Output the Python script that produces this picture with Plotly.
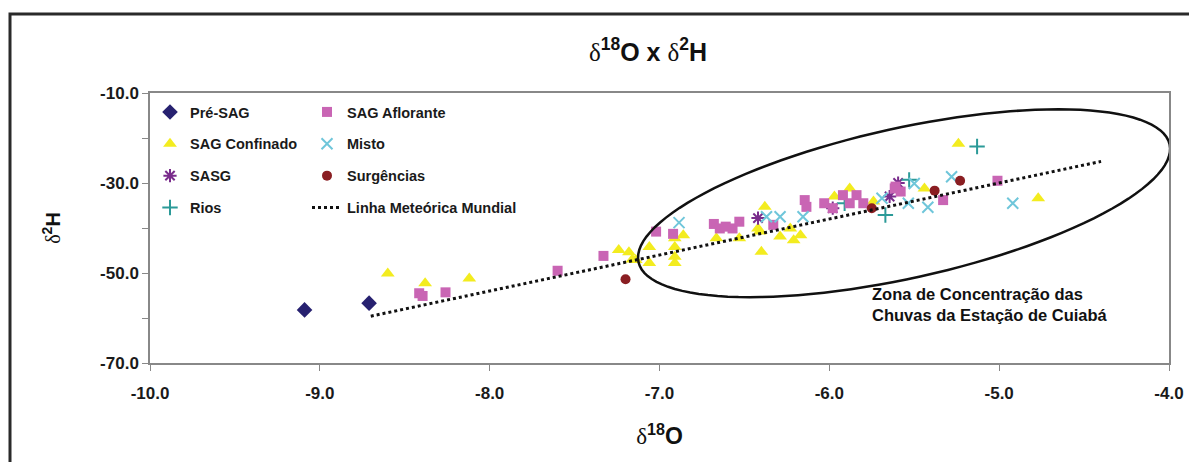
import math
import plotly.graph_objects as go

# ---------------- data ----------------
pre_sag_x = [-9.09, -8.71]
pre_sag_y = [-58.2, -56.7]

sag_aflorante_x = [-8.415, -8.395, -8.26, -7.60, -7.33, -7.02, -6.92, -6.68, -6.645, -6.61, -6.57, -6.53,
                   -6.33, -6.145, -6.135, -6.03, -5.98, -5.92, -5.88, -5.84, -5.80, -5.61, -5.615, -5.58,
                   -5.33, -5.01]
sag_aflorante_y = [-54.5, -55.1, -54.3, -49.5, -46.2, -40.8, -41.3, -39.1, -40.1, -39.7, -40.1, -38.6,
                   -39.3, -33.8, -35.3, -34.5, -35.6, -32.7, -34.5, -32.7, -34.5, -30.8, -31.2, -31.9,
                   -33.8, -29.5]

sag_confinado_x = [-8.60, -8.38, -8.12, -7.24, -7.18, -7.16, -7.14, -7.06, -7.06, -6.91, -6.86, -6.91,
                   -6.91, -6.91, -6.665, -6.53, -6.38, -6.42, -6.41, -6.40, -6.29, -6.23, -6.21, -6.17,
                   -5.97, -5.88, -5.74, -5.44, -5.24, -4.77]
sag_confinado_y = [-50.1, -52.3, -51.2, -44.9, -45.4, -47.0, -47.1, -44.2, -47.8, -42.3, -41.6, -44.2,
                   -46.4, -47.8, -42.3, -42.3, -35.3, -40.1, -40.8, -45.3, -41.9, -40.1, -42.7, -41.6,
                   -33.0, -31.2, -34.1, -31.2, -21.3, -33.4]

misto_x = [-6.885, -6.37, -6.29, -6.155, -5.69, -5.50, -5.535, -5.28, -5.42, -4.92]
misto_y = [-38.8, -37.5, -37.5, -37.5, -33.4, -30.1, -34.5, -28.6, -35.4, -34.5]

sasg_x = [-6.42, -5.98, -5.645, -5.595]
sasg_y = [-37.8, -35.6, -33.0, -30.0]

surgencias_x = [-7.20, -5.75, -5.38, -5.23]
surgencias_y = [-51.4, -35.6, -31.7, -29.5]

rios_x = [-5.91, -5.67, -5.53, -5.13]
rios_y = [-34.5, -37.1, -29.3, -21.9]

lmm_x = [-8.70, -4.40]
lmm_y = [-59.6, -25.2]

x_ticks = [-10, -9, -8, -7, -6, -5, -4]
y_ticks = [-70, -50, -30, -10]

# ellipse (zone annotation): centre in data units, semi-axes in pixels, tilt
ell_cx, ell_cy = -5.56, -34.5
ell_a_px, ell_b_px, ell_angle_deg = 272, 75, 12.5

# ---------------- figure ----------------
# page body has an 8px margin, so the figure is sized/offset to land on the 1197x462 frame
W, H = 1189, 454
ML, MR, MT, MB = 142, 28, 85, 99
PW, PH = W - ML - MR, H - MT - MB
X_RANGE = [-10, -4]
Y_RANGE = [-70, -10]
px_per_x = PW / (X_RANGE[1] - X_RANGE[0])
px_per_y = PH / (Y_RANGE[1] - Y_RANGE[0])

FONT = "Liberation Sans, Arial, sans-serif"
SERIF = "Liberation Serif, Times New Roman, serif"

fig = go.Figure()

def add(name, xs, ys, symbol, color, size, legend, line_w=0, line_color=None):
    fig.add_trace(go.Scatter(
        x=xs, y=ys, mode="markers", name=name, legend=legend, legendgroup=name,
        marker=dict(symbol=symbol, color=color, size=size,
                    line=dict(width=line_w, color=line_color or color)),
    ))

add("Pré-SAG", pre_sag_x, pre_sag_y, "diamond", "#272170", 12, "legend")
add("SAG Confinado", sag_confinado_x, sag_confinado_y, "triangle-up", "#f3ec1f", 12, "legend")
add("SASG", sasg_x, sasg_y, "asterisk-open", "#7a2c8c", 11, "legend", 2, "#7a2c8c")
add("Rios", rios_x, rios_y, "cross-thin-open", "#2b9a98", 11, "legend", 2, "#2b9a98")

add("SAG Aflorante", sag_aflorante_x, sag_aflorante_y, "square", "#c965b4", 10, "legend2")
add("Misto", misto_x, misto_y, "x-thin-open", "#6fc6da", 11, "legend2", 2, "#6fc6da")
add("Surgências", surgencias_x, surgencias_y, "circle", "#8a1e22", 10, "legend2")
fig.add_trace(go.Scatter(
    x=lmm_x, y=lmm_y, mode="lines", name="Linha Meteórica Mundial", legend="legend2",
    legendgroup="lmm", line=dict(color="#111111", width=3, dash="dot"),
))

# ellipse path
pts = []
th = math.radians(ell_angle_deg)
for i in range(121):
    t = 2 * math.pi * i / 120
    ex = ell_a_px * math.cos(t)
    ey = ell_b_px * math.sin(t)
    dx = ex * math.cos(th) - ey * math.sin(th)
    dy = ex * math.sin(th) + ey * math.cos(th)
    pts.append((ell_cx + dx / px_per_x, ell_cy + dy / px_per_y))
path = "M " + " L ".join(f"{x:.4f},{y:.4f}" for x, y in pts) + " Z"
fig.add_shape(type="path", path=path, xref="x", yref="y",
              line=dict(color="#111111", width=2.5))

# outer frame (runs off the right and bottom edges)
fig.add_shape(type="rect", xref="paper", yref="paper",
              x0=(2 - ML) / PW, x1=(W + 20 - ML) / PW,
              y0=(PH - (H + 30 - MT)) / PH, y1=(PH - (6 - MT)) / PH,
              line=dict(color="#2a2a2a", width=3), layer="above")

fig.add_annotation(
    x=-5.76, y=-56.9, xref="x", yref="y", xanchor="left", yanchor="middle", align="left",
    text="Zona de Concentração das<br>Chuvas da Estação de Cuiabá", showarrow=False,
    font=dict(family=FONT, size=16.5, color="#111111", weight="bold"),
)

d = f'<span style="font-family:{SERIF};font-weight:normal">δ</span>'
fig.update_layout(
    width=W, height=H, autosize=False,
    margin=dict(l=ML, r=MR, t=MT, b=MB),
    paper_bgcolor="white", plot_bgcolor="white",
    font=dict(family=FONT, color="#111111"),
    title=dict(text=f"{d}<sup>18</sup>O x {d}<sup>2</sup>H", x=(648 - 8) / W, xanchor="center",
               y=1 - 44 / H, yanchor="middle",
               font=dict(family=FONT, size=25, color="#111111", weight="bold")),
    xaxis=dict(range=X_RANGE, tickvals=x_ticks, ticktext=[f"{v:.1f}" for v in x_ticks],
               showgrid=False, zeroline=False, showline=True, linecolor="#888888", linewidth=1.5,
               mirror=True, ticks="outside", ticklen=6, tickcolor="#888888",
               tickfont=dict(family=FONT, size=17, color="#1a1a1a", weight="bold"),
               ticklabelstandoff=8,
               title=dict(text=f'{d}<sup>18</sup>O', standoff=26,
                          font=dict(family=FONT, size=23, color="#111111", weight="bold"))),
    yaxis=dict(range=Y_RANGE, tickvals=y_ticks, ticktext=[f"{v:.1f}" for v in y_ticks],
               minor=dict(dtick=10, tick0=-70, ticks="outside", ticklen=6, tickcolor="#888888"),
               showgrid=False, zeroline=False, showline=True, linecolor="#888888", linewidth=1.5,
               mirror=True, ticks="outside", ticklen=6, tickcolor="#888888",
               tickfont=dict(family=FONT, size=17, color="#1a1a1a", weight="bold"),
               title=dict(text=f'{d}<sup>2</sup>H', standoff=34,
                          font=dict(family=FONT, size=20, color="#111111", weight="bold"))),
    legend=dict(x=0.0, y=1 - 3 / PH, xanchor="left", yanchor="top",
                bgcolor="rgba(0,0,0,0)", traceorder="grouped", tracegroupgap=10,
                font=dict(family=FONT, size=14.5, color="#1a1a1a", weight="bold")),
    legend2=dict(x=157 / PW, y=1 - 3 / PH, xanchor="left", yanchor="top",
                 bgcolor="rgba(0,0,0,0)", traceorder="grouped", tracegroupgap=10,
                 font=dict(family=FONT, size=14.5, color="#1a1a1a", weight="bold")),
)

fig.write_html("out.html")
